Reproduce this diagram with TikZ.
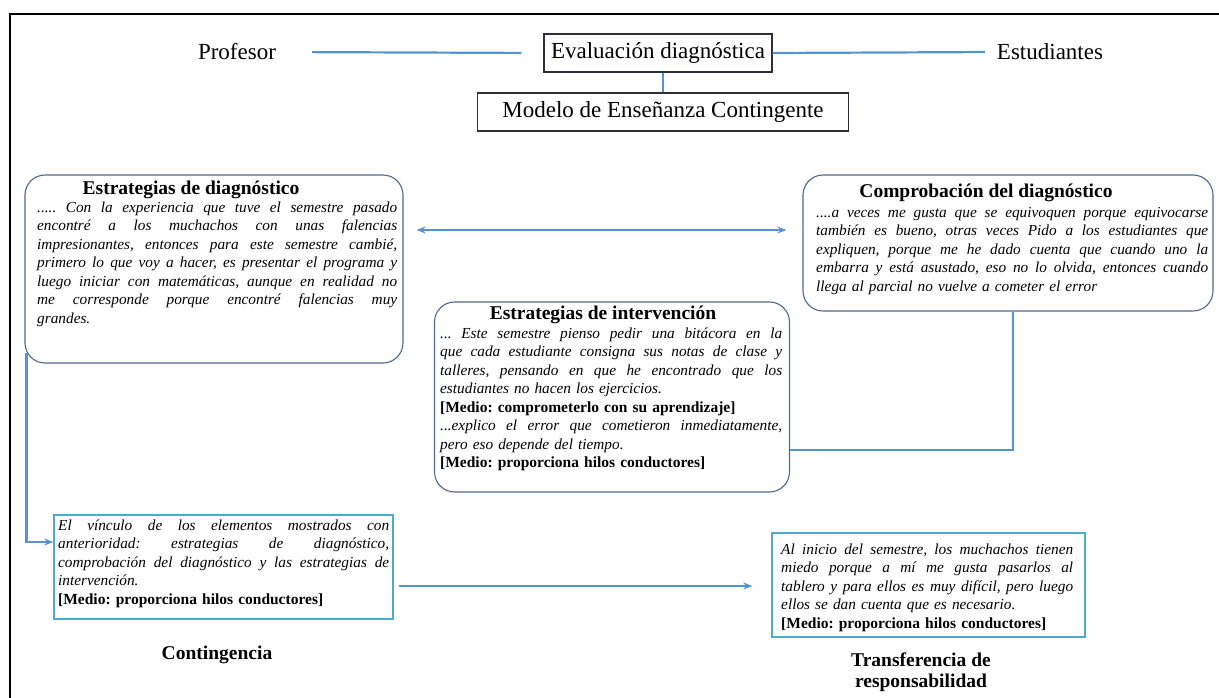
\documentclass[tikz,border=0pt]{standalone}
\usepackage{fontspec}
\setmainfont{Liberation Serif}
\usetikzlibrary{arrows.meta,calc}
\setlength\parindent{0pt}
\frenchspacing

\definecolor{linkblue}{RGB}{84,148,208}
\definecolor{roundedge}{RGB}{80,104,140}
\definecolor{quoteedge}{RGB}{75,170,205}
\definecolor{headedge}{RGB}{45,45,60}

% width of the current quotation column
\newlength\qw
% one fully justified line of a quotation: the word spaces share the slack
\newcommand\jl[1]{\leavevmode\hbox to \qw{\spaceskip=0.25em plus 1fil\relax #1}\\}

\tikzset{
  link/.style={draw=linkblue, line width=2.2pt},
  arrowend/.style={-{Stealth[length=9pt,width=7pt]}},
  head/.style={inner sep=0pt, font=\fontsize{23}{27}\selectfont},
  headbox/.style={draw=headedge, line width=1.2pt, inner sep=0pt,
    minimum height=38pt, font=\fontsize{23}{27}\selectfont},
  roundbox/.style={draw=roundedge, line width=1.1pt, rounded corners=20pt,
    inner sep=0pt},
  quotebox/.style={draw=quoteedge, line width=1.4pt, inner sep=0pt},
  title/.style={inner sep=0pt, font=\fontsize{19.5}{22}\selectfont\bfseries},
  quote/.style={anchor=north west, inner sep=0pt, align=left, text width=#1,
    font=\fontsize{15.3}{18.5}\selectfont\itshape\setlength\qw{#1}},
}
\newcommand\medio[1]{{\upshape\bfseries\fontsize{15.5}{18.5}\selectfont #1}}

\begin{document}
\begin{tikzpicture}[x=1pt,y=-1pt]
\useasboundingbox (0,0) rectangle (1219,698);

% page frame
\draw[line width=2.6pt] (10,698) -- (10,14) -- (1219,14);

% header row
\node[head] (prof) at (237,52) {Profesor};
\node[headbox, minimum width=228pt] (eval) at (658,53) {Evaluación diagnóstica};
\node[head] (est) at (1050,52) {Estudiantes};
\node[headbox, minimum width=371pt] (modelo) at (663,112) {Modelo de Enseñanza Contingente};

\draw[link, shorten <=36pt, shorten >=22pt] (prof.east) -- (eval.west);
\draw[link, shorten >=12pt] (eval.east) -- (est.west);
\draw[link] (eval.south -| modelo.north) -- (modelo.north);

% rounded boxes
\node[roundbox, minimum width=378pt, minimum height=188pt] (diag) at (214,269) {};
\node[roundbox, minimum width=410pt, minimum height=136pt] (comprob) at (1008,243) {};
\node[roundbox, minimum width=355pt, minimum height=190pt] (interv) at (612,397) {};

\node[title] (diagT) at (191,190) {Estrategias de diagnóstico};
\node[title] (comprobT) at (986,193) {Comprobación del diagnóstico};
\node[title] (intervT) at (603,315) {Estrategias de intervención};

\node[quote=360pt] (diagQ) at (37,199) {\setlength\qw{360pt}%
\jl{\strut..... Con la experiencia que tuve el semestre pasado}
\jl{encontré a los muchachos con unas falencias}
\jl{impresionantes, entonces para este semestre cambié,}
\jl{primero lo que voy a hacer, es presentar el programa y}
\jl{luego iniciar con matemáticas, aunque en realidad no}
\jl{me corresponde porque encontré falencias muy}
grandes.};

\node[quote=392pt] (comprobQ) at (816,204) {\setlength\qw{392pt}%
\jl{\strut....a veces me gusta que se equivoquen porque equivocarse}
\jl{también es bueno, otras veces Pido a los estudiantes que}
\jl{expliquen, porque me he dado cuenta que cuando uno la}
\jl{embarra y está asustado, eso no lo olvida, entonces cuando}
llega al parcial no vuelve a cometer el error};

\node[quote=342pt] (intervQ) at (440,325) {\setlength\qw{342pt}%
\jl{\strut... Este semestre pienso pedir una bitácora en la}
\jl{que cada estudiante consigna sus notas de clase y}
\jl{talleres, pensando en que he encontrado que los}
estudiantes no hacen los ejercicios.\\
\medio{[Medio: comprometerlo con su aprendizaje]}\\
\jl{...explico el error que cometieron inmediatamente,}
pero eso depende del tiempo.\\
\medio{[Medio: proporciona hilos conductores]}};

% quotation boxes of the lower row
\node[quotebox, minimum width=339pt, minimum height=104pt] (cont) at (223.5,567) {};
\node[quotebox, minimum width=313pt, minimum height=104pt] (trans) at (928.5,585) {};

\node[quote=331pt] (contQ) at (58,517) {\setlength\qw{331pt}%
\jl{\strut El vínculo de los elementos mostrados con}
\jl{anterioridad: estrategias de diagnóstico,}
\jl{comprobación del diagnóstico y las estrategias de}
intervención.\\
\medio{[Medio: proporciona hilos conductores]}};

\node[quote=292pt] (transQ) at (781,541) {\setlength\qw{292pt}%
\jl{\strut Al inicio del semestre, los muchachos tienen}
\jl{miedo porque a mí me gusta pasarlos al}
\jl{tablero y para ellos es muy difícil, pero luego}
ellos se dan cuenta que es necesario.\\
\medio{[Medio: proporciona hilos conductores]}};

\node[title] (contL) at (217,655) {Contingencia};
\node[title, align=center, font=\fontsize{19.5}{21}\selectfont\bfseries] (transL) at (921,672)
  {Transferencia de\\responsabilidad};

% connectors
\coordinate (rowA) at (0,230);
\coordinate (drop) at (1013,450);
\coordinate (bend) at (27,542);
\coordinate (rowB) at (0,586);

\draw[link, {Stealth[length=9pt,width=7pt]}-{Stealth[length=9pt,width=7pt]},
      shorten <=13pt, shorten >=16pt] (diag.east |- rowA) -- (comprob.west |- rowA);
\draw[link] (comprob.south -| drop) |- (interv.east |- drop);
\draw[link, arrowend] ($(diag.south west)+(2,-11)$) |- (cont.west |- bend);
\draw[link, arrowend, shorten <=5pt, shorten >=19pt] (cont.east |- rowB) -- (trans.west |- rowB);
\end{tikzpicture}
\end{document}
